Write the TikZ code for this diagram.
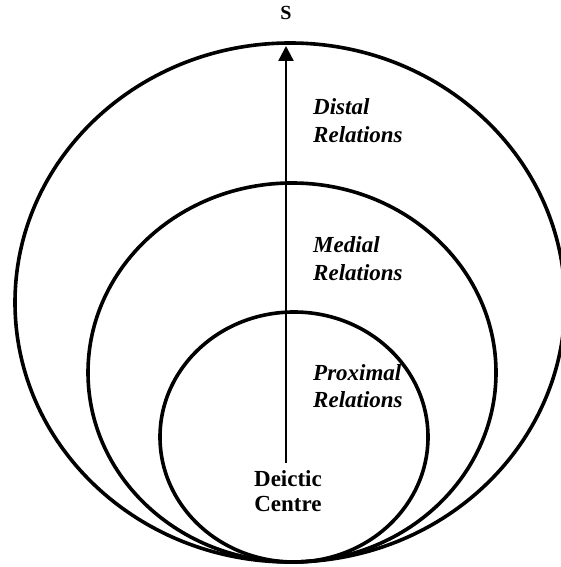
\documentclass[tikz,border=0pt]{standalone}
\usepackage{fontspec}
\setmainfont{Liberation Serif}
\usetikzlibrary{arrows.meta}

\begin{document}
\begin{tikzpicture}[x=1pt, y=1pt,
    ring/.style={line width=3.6pt},
    label text/.style={font=\fontsize{23}{27.5}\selectfont\bfseries\itshape, align=left, inner sep=0pt, anchor=base west},
    centre text/.style={font=\fontsize{23}{25}\selectfont\bfseries, align=center, inner sep=0pt, anchor=base}]
    \useasboundingbox (0,0) rectangle (560,567);
    % rings
    \path[draw, ring](290,264.5) ellipse [x radius=275, y radius=259.5];
    \path[draw, ring](292,194.5) ellipse [x radius=204, y radius=189.5];
    \path[draw, ring](294,130) ellipse [x radius=134, y radius=125];
    % labels
    \node[font=\fontsize{20}{24}\selectfont\bfseries](S)at(286,554){S};
    \node[label text](distal)at(313,424.5){Distal\\Relations};
    \node[label text](medial)at(313,286.5){Medial\\Relations};
    \node[label text](proximal)at(313,159){Proximal\\Relations};
    \node[centre text](deictic)at(288,55){Deictic\\Centre};
    % arrow
    \coordinate(tail)at(286,104);
    \coordinate(tip)at(286,521);
    \path[draw, line width=2.4pt, -{Triangle[width=15pt, length=15pt]}](tail)to(tip);
\end{tikzpicture}
\end{document}
